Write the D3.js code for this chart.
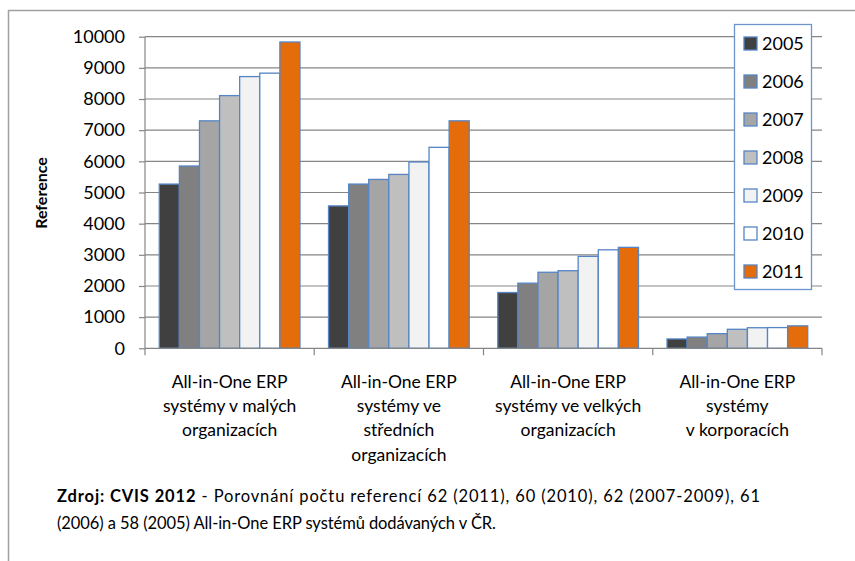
<!DOCTYPE html>
<html>
<head>
<meta charset="utf-8">
<script src="https://cdn.jsdelivr.net/npm/d3@7"></script>
<style>
  body { margin: 0; background: #fff; }
  svg { display: block; font-family: Lato, "Open Sans", sans-serif; }
</style>
</head>
<body>
<svg id="chart" width="855" height="561"></svg>
<script>
const categories = [
  ["All-in-One ERP", "systémy v malých", "organizacích"],
  ["All-in-One ERP", "systémy ve", "středních", "organizacích"],
  ["All-in-One ERP", "systémy ve velkých", "organizacích"],
  ["All-in-One ERP", "systémy", "v korporacích"]
];
const years = ["2005", "2006", "2007", "2008", "2009", "2010", "2011"];
const colors = ["#404040", "#808080", "#A5A5A5", "#BFBFBF", "#F2F2F2", "#FFFFFF", "#E46C0A"];
const v2005 = [5270, 4570, 1790, 300];
const v2006 = [5850, 5270, 2090, 360];
const v2007 = [7300, 5420, 2440, 470];
const v2008 = [8110, 5580, 2490, 610];
const v2009 = [8720, 5980, 2950, 660];
const v2010 = [8830, 6450, 3160, 665];
const v2011 = [9830, 7300, 3240, 720];
const series = [v2005, v2006, v2007, v2008, v2009, v2010, v2011];
const yTicks = [0, 1000, 2000, 3000, 4000, 5000, 6000, 7000, 8000, 9000, 10000];
const yTitle = "Reference";
const noteBold = "Zdroj: CVIS 2012";
const noteRest1 = " - Porovnání počtu referencí 62 (2011), 60 (2010), 62 (2007-2009), 61";
const noteLine2 = "(2006) a 58 (2005) All-in-One ERP systémů  dodávaných v ČR.";

const svg = d3.select("#chart");
const plot = { left: 145, right: 822, top: 36.7, bottom: 348.3 };

// frame
svg.append("line").attr("x1", 8.5).attr("x2", 8.5).attr("y1", 10).attr("y2", 561)
  .attr("stroke", "#a0a0a0").attr("stroke-width", 1.5);
svg.append("line").attr("x1", 8).attr("x2", 855).attr("y1", 10.5).attr("y2", 10.5)
  .attr("stroke", "#a0a0a0").attr("stroke-width", 1.5);

const x0 = d3.scaleBand().domain(d3.range(categories.length)).range([plot.left, plot.right]).padding(0);
const x1 = d3.scaleBand().domain(years).range([0, x0.bandwidth()]).paddingInner(0).paddingOuter(0.71);
const y = d3.scaleLinear().domain([0, 10000]).range([plot.bottom, plot.top]);

// gridlines
svg.append("g").selectAll("line").data(yTicks.filter(d => d > 0)).join("line")
  .attr("x1", plot.left).attr("x2", plot.right)
  .attr("y1", d => y(d)).attr("y2", d => y(d))
  .attr("stroke", "#858585").attr("stroke-width", 1.2);

// bars
const groups = svg.append("g").selectAll("g").data(categories).join("g")
  .attr("transform", (d, i) => `translate(${x0(i)},0)`);
groups.selectAll("rect").data((d, i) => years.map((yr, j) => ({ yr, j, v: series[j][i] }))).join("rect")
  .attr("x", d => x1(d.yr))
  .attr("width", x1.bandwidth())
  .attr("y", d => y(d.v))
  .attr("height", d => y(0) - y(d.v))
  .attr("fill", d => colors[d.j])
  .attr("stroke", "#5585C5").attr("stroke-width", 1.3);

// y axis
const yAxis = d3.axisLeft(y).tickValues(yTicks).tickSize(6).tickPadding(14).tickFormat(d3.format("d"));
const ya = svg.append("g").attr("transform", `translate(${plot.left},0)`).call(yAxis);
ya.select(".domain").attr("stroke", "#858585").attr("stroke-width", 1.2).attr("d", `M-0,${plot.bottom}V${plot.top}`);
ya.selectAll(".tick line").attr("stroke", "#858585").attr("stroke-width", 1.2);
ya.selectAll(".tick text").attr("font-size", 18).attr("fill", "#000").attr("font-family", "Lato, sans-serif");

// x axis baseline and ticks
svg.append("line").attr("x1", plot.left).attr("x2", plot.right).attr("y1", plot.bottom).attr("y2", plot.bottom)
  .attr("stroke", "#858585").attr("stroke-width", 1.2);
const bounds = d3.range(categories.length + 1).map(i => i < categories.length ? x0(i) : plot.right);
svg.append("g").selectAll("line").data(bounds).join("line")
  .attr("x1", d => d).attr("x2", d => d).attr("y1", plot.bottom).attr("y2", plot.bottom + 7)
  .attr("stroke", "#858585").attr("stroke-width", 1.2);

// category labels
svg.append("g").selectAll("text").data(categories).join("text")
  .attr("text-anchor", "middle").attr("font-size", 17.5).attr("fill", "#000")
  .attr("transform", (d, i) => `translate(${x0(i) + x0.bandwidth() / 2},388)`)
  .selectAll("tspan").data(d => d).join("tspan")
  .attr("x", 0).attr("y", (d, k) => k * 24.2).text(d => d);

// y title
svg.append("text").attr("transform", "translate(47,193) rotate(-90)")
  .attr("text-anchor", "middle").attr("font-size", 16).attr("font-weight", "bold").text(yTitle);

// legend
const lg = svg.append("g");
lg.append("rect").attr("x", 734.5).attr("y", 24.5).attr("width", 77).attr("height", 265)
  .attr("fill", "#fff").attr("stroke", "#6B95CC").attr("stroke-width", 1.3);
const items = lg.selectAll("g").data(years).join("g")
  .attr("transform", (d, i) => `translate(744,${43.5 + i * 38})`);
items.append("rect").attr("x", 0).attr("y", -6.5).attr("width", 13).attr("height", 13)
  .attr("fill", (d, i) => colors[i]).attr("stroke", "#5585C5").attr("stroke-width", 1.3);
items.append("text").attr("x", 18).attr("y", 0).attr("dy", "0.35em")
  .attr("font-size", 18).attr("fill", "#000").text(d => d);

// footnote
const n1 = svg.append("text").attr("x", 57).attr("y", 502).attr("font-size", 16.5).attr("fill", "#000")
  .attr("textLength", 703).attr("lengthAdjust", "spacing");
n1.append("tspan").attr("font-weight", "bold").text(noteBold);
n1.append("tspan").text(noteRest1);
svg.append("text").attr("x", 57).attr("y", 529).attr("font-size", 16.5).attr("fill", "#000")
  .attr("textLength", 439).attr("lengthAdjust", "spacing").text(noteLine2);
</script>
</body>
</html>
